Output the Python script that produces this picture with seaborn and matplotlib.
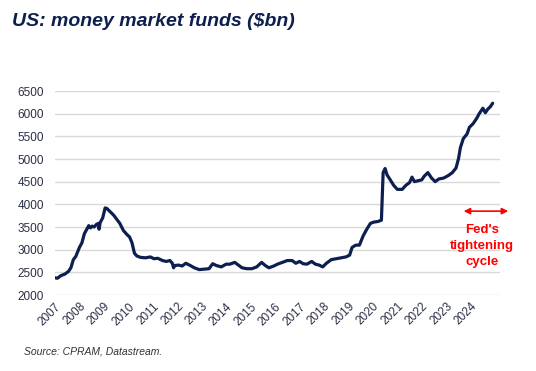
import matplotlib
matplotlib.use("Agg")
import matplotlib.pyplot as plt
import pandas as pd
import seaborn as sns

# values (decimal year, $bn)
years = [
    2007.00, 2007.10, 2007.25, 2007.40, 2007.55, 2007.65, 2007.75, 2007.85, 2008.00,
    2008.10, 2008.20, 2008.30, 2008.38, 2008.45, 2008.52, 2008.60, 2008.70, 2008.78,
    2008.80, 2008.85, 2008.95, 2009.05, 2009.12, 2009.25, 2009.40, 2009.55, 2009.65,
    2009.80, 2009.95, 2010.05, 2010.15, 2010.25, 2010.35, 2010.50, 2010.70, 2010.90,
    2011.05, 2011.20, 2011.40, 2011.55, 2011.70, 2011.80, 2011.85, 2011.90, 2012.05,
    2012.20, 2012.35, 2012.50, 2012.70, 2012.90, 2013.10, 2013.30, 2013.45, 2013.60,
    2013.80, 2014.00, 2014.15, 2014.35, 2014.50, 2014.65, 2014.85, 2015.05, 2015.25,
    2015.45, 2015.60, 2015.75, 2015.95, 2016.10, 2016.30, 2016.50, 2016.70, 2016.85,
    2017.00, 2017.15, 2017.30, 2017.50, 2017.65, 2017.80, 2017.95, 2018.10, 2018.30,
    2018.50, 2018.70, 2018.90, 2019.05, 2019.15, 2019.30, 2019.45, 2019.60, 2019.75,
    2019.90, 2020.05, 2020.20, 2020.35, 2020.42, 2020.50, 2020.58, 2020.70, 2020.85,
    2021.00, 2021.20, 2021.35, 2021.50, 2021.60, 2021.70, 2021.85, 2022.00, 2022.10,
    2022.25, 2022.40, 2022.55, 2022.70, 2022.90, 2023.10, 2023.25, 2023.40, 2023.50,
    2023.58, 2023.70, 2023.85, 2023.95, 2024.10, 2024.25, 2024.35, 2024.50, 2024.60,
    2024.70, 2024.80, 2024.90,
]
assets = [
    2380, 2370, 2430, 2460, 2520, 2600, 2780, 2850, 3050,
    3150, 3350, 3450, 3530, 3480, 3520, 3500, 3560, 3580,
    3450, 3600, 3700, 3920, 3910, 3840, 3760, 3650, 3580,
    3420, 3330, 3280, 3150, 2920, 2860, 2830, 2820, 2840,
    2800, 2810, 2760, 2740, 2760, 2700, 2600, 2650, 2660,
    2640, 2700, 2660, 2600, 2560, 2570, 2580, 2690, 2650,
    2620, 2680, 2680, 2720, 2660, 2600, 2580, 2580, 2620,
    2720, 2650, 2600, 2640, 2680, 2720, 2760, 2760, 2700,
    2740, 2690, 2680, 2740, 2680, 2660, 2620, 2700, 2780,
    2800, 2820, 2840, 2880, 3050, 3100, 3100, 3300, 3450,
    3580, 3610, 3620, 3650, 4700, 4790, 4650, 4550, 4420,
    4330, 4330, 4420, 4480, 4600, 4500, 4520, 4540, 4620,
    4700, 4580, 4500, 4560, 4580, 4640, 4700, 4800, 5000,
    5250, 5450, 5550, 5700, 5780, 5900, 6000, 6120, 6020,
    6100, 6150, 6230,
]
xticks = list(range(2007, 2025))

df = pd.DataFrame({"year": years, "assets": assets})

sns.set_theme(style="white")
plt.rcParams["font.family"] = ["Liberation Sans", "DejaVu Sans"]

navy = "#0c1f4e"
fig = plt.figure(figsize=(5.36, 3.71), dpi=100)
ax = fig.add_axes([55 / 536, 76 / 371, 445 / 536, 204 / 371])

sns.lineplot(data=df, x="year", y="assets", ax=ax, color=navy, linewidth=2.3)

ax.set_xlim(2007, 2025.2)
ax.set_ylim(2000, 6500)
ax.set_yticks(range(2000, 7000, 500))
ax.set_xticks(xticks)
ax.set_xticklabels([str(y) for y in xticks], rotation=45, ha="right",
                   rotation_mode="anchor")
ax.tick_params(axis="both", length=0, labelsize=8.5, labelcolor="#2a2f45")
ax.tick_params(axis="x", pad=4)
ax.tick_params(axis="y", pad=8)
ax.yaxis.grid(True, color="#d9d9d9", linewidth=1)
ax.set_axisbelow(True)
for s in ax.spines.values():
    s.set_visible(False)
ax.set_xlabel("")
ax.set_ylabel("")

# Fed tightening annotation
ax.annotate("", xy=(2023.6, 3850), xytext=(2025.65, 3850),
            arrowprops=dict(arrowstyle="<|-|>", color="red", lw=1.2,
                            mutation_scale=9),
            annotation_clip=False)
ax.text(2024.45, 3560, "Fed's\ntightening\ncycle", color="red",
        fontsize=9.5, fontweight="bold", ha="center", va="top",
        linespacing=1.45)

fig.text(12 / 536, 1 - 22 / 371, "US: money market funds ($bn)",
         fontsize=14, fontweight="bold", fontstyle="italic", color=navy,
         va="center", ha="left")
fig.text(24 / 536, 1 - 352 / 371, "Source: CPRAM, Datastream.",
         fontsize=7.5, fontstyle="italic", color="#333333",
         va="center", ha="left")

fig.savefig("out.png", dpi=100)
